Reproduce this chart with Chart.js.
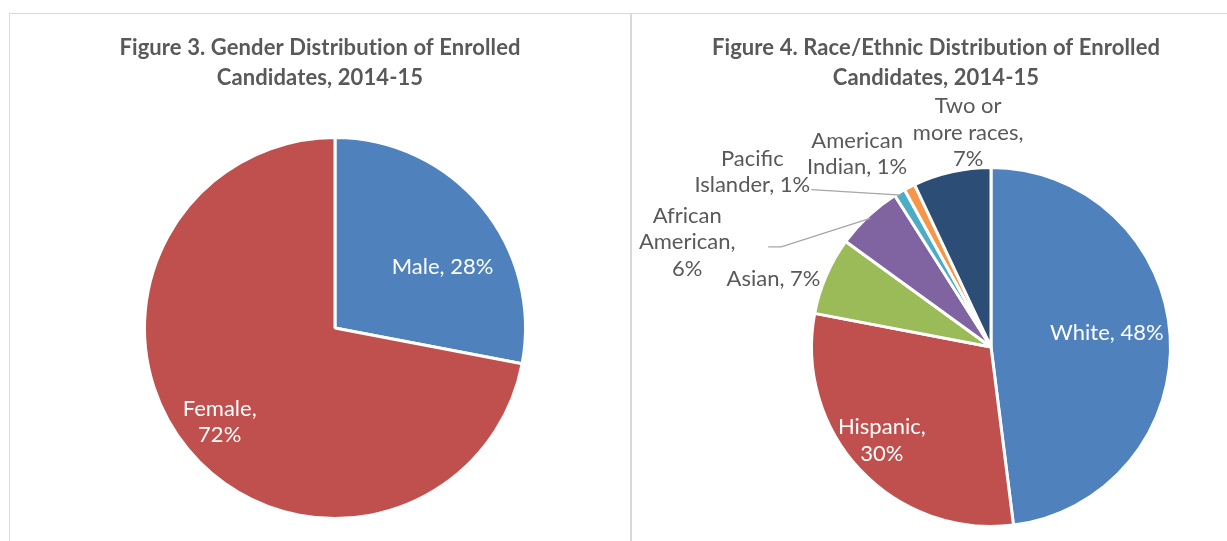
<!DOCTYPE html>
<html>
<head>
<meta charset="utf-8">
<script src="https://cdn.jsdelivr.net/npm/chart.js@4"></script>
<style>
  html, body { margin: 0; padding: 0; background: #fff; overflow: hidden; }
  body { width: 1227px; height: 541px; position: relative; }
  .panel { position: absolute; top: 13px; height: 540px; border-top: 1px solid #d9d9d9; }
  #leftPanel { left: 9px; width: 620px; border-left: 1px solid #d9d9d9; border-right: 2px solid #d9d9d9; }
  #rightPanel { left: 631px; width: 620px; }
  canvas { position: absolute; top: 0; }
</style>
</head>
<body>
<div class="panel" id="leftPanel"><canvas id="genderChart" width="620" height="528" style="left:0"></canvas></div>
<div class="panel" id="rightPanel"><canvas id="raceChart" width="612" height="528" style="left:-1px"></canvas></div>
<script>
// data
const genderLabels = ['Male', 'Female'];
const genderValues = [28, 72];
const genderColors = ['#4F81BD', '#C0504D'];

const raceLabels = ['White', 'Hispanic', 'Asian', 'African American', 'Pacific Islander', 'American Indian', 'Two or more races'];
const raceValues = [48, 30, 7, 6, 1, 1, 7];
const raceColors = ['#4F81BD', '#C0504D', '#9BBB59', '#8064A2', '#4BACC6', '#F79646', '#2C4D75'];

// label text, '|' is a line break, {v} the value
const genderText = ['Male, {v}%', 'Female,|{v}%'];
const raceText = ['White, {v}%', 'Hispanic,|{v}%', 'Asian, {v}%', 'African|American,|{v}%', 'Pacific|Islander, {v}%', 'American|Indian, {v}%', 'Two or|more races,|{v}%'];

// label placement relative to each slice: r = fraction of radius, shift = degrees off the mid angle
const genderPlace = [{ r: 0.65, shift: 9.9 }, { r: 0.78, shift: 0.5 }];
const racePlace = [
    { r: 0.65, shift: -3.3 },
    { r: 0.80, shift: 2.7 },
    { r: 1.27, shift: -6.0 },
    { r: 1.79, shift: -27.8, leader: { dx: 81, dy: 4.5, elbow: 13 } },
    { r: 1.65, shift: -23.1, leader: { dx: 59, dy: 18, elbow: 0 } },
    { r: 1.31, shift: -7.7 },
    { r: 1.20, shift: 6.5 }
];

const FONT = 'Lato, "Open Sans", sans-serif';

const sliceText = {
    id: 'sliceText',
    afterDatasetsDraw(chart, args, opts) {
        const ctx = chart.ctx;
        const meta = chart.getDatasetMeta(0);
        const values = chart.data.datasets[0].data;
        ctx.save();
        ctx.font = opts.size + 'px ' + FONT;
        ctx.textAlign = 'center';
        ctx.textBaseline = 'middle';
        meta.data.forEach((arc, i) => {
            const p = opts.place[i];
            const { x, y, startAngle, endAngle, outerRadius } = arc.getProps(['x', 'y', 'startAngle', 'endAngle', 'outerRadius'], true);
            const mid = (startAngle + endAngle) / 2;
            const a = mid + p.shift * Math.PI / 180;
            const lx = x + Math.cos(a) * outerRadius * p.r;
            const ly = y + Math.sin(a) * outerRadius * p.r;

            if (p.leader) {
                const sx = lx + p.leader.dx, sy = ly + p.leader.dy;
                ctx.beginPath();
                ctx.moveTo(sx, sy);
                ctx.lineTo(sx + p.leader.elbow, sy);
                ctx.lineTo(x + Math.cos(mid) * (outerRadius - 3), y + Math.sin(mid) * (outerRadius - 3));
                ctx.strokeStyle = '#a6a6a6';
                ctx.lineWidth = 1.3;
                ctx.stroke();
            }

            const lines = opts.text[i].replace('{v}', values[i]).split('|');
            ctx.fillStyle = p.r < 1 ? '#ffffff' : '#595959';
            lines.forEach((t, k) => {
                ctx.fillText(t, lx, ly + (k - (lines.length - 1) / 2) * opts.lineHeight);
            });
        });
        ctx.restore();
    }
};

const panelTitle = {
    id: 'panelTitle',
    afterDraw(chart, args, opts) {
        const ctx = chart.ctx;
        ctx.save();
        ctx.font = 'bold ' + opts.size + 'px ' + FONT;
        ctx.letterSpacing = '0.1px'; // keeps "ti" from turning into a ligature
        ctx.fillStyle = '#595959';
        ctx.textAlign = 'center';
        ctx.textBaseline = 'middle';
        opts.lines.forEach((t, k) => ctx.fillText(t, chart.width / 2, opts.top + k * opts.lineHeight));
        ctx.restore();
    }
};

function pieConfig(labels, values, colors, padding, title, text, place) {
    return {
        type: 'pie',
        data: {
            labels,
            datasets: [{
                data: values,
                backgroundColor: colors,
                borderColor: '#ffffff',
                borderWidth: 3
            }]
        },
        options: {
            responsive: false,
            animation: false,
            events: [],
            layout: { padding },
            plugins: {
                legend: { display: false },
                tooltip: { enabled: false },
                panelTitle: { lines: title, size: 22, top: 34, lineHeight: 30 },
                sliceText: { text, place, size: 22, lineHeight: 26.5 }
            }
        },
        plugins: [sliceText, panelTitle]
    };
}

const genderChart = new Chart(
    document.getElementById('genderChart'),
    pieConfig(genderLabels, genderValues, genderColors,
        { top: 122, bottom: 22, left: 30, right: 0 },
        ['Figure 3. Gender Distribution of Enrolled', 'Candidates, 2014-15'],
        genderText, genderPlace)
);

const raceChart = new Chart(
    document.getElementById('raceChart'),
    pieConfig(raceLabels, raceValues, raceColors,
        { top: 152, bottom: 14, left: 110, right: 0 },
        ['Figure 4. Race/Ethnic Distribution of Enrolled', 'Candidates, 2014-15'],
        raceText, racePlace)
);
</script>
</body>
</html>
